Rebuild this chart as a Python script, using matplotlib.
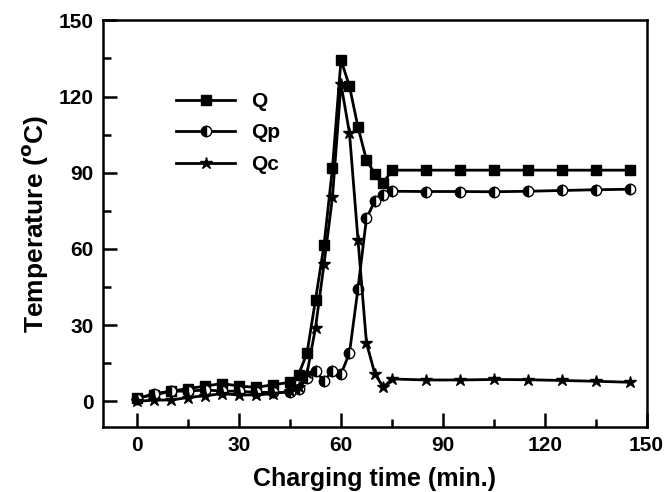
import numpy as np
import matplotlib.pyplot as plt
from matplotlib.ticker import MultipleLocator

plt.rcParams['font.family'] = ['Liberation Sans', 'DejaVu Sans']
plt.rcParams['font.weight'] = 'bold'

# charging time (min.)
t = [0, 5, 10, 15, 20, 25, 30, 35, 40, 45, 47.5, 50, 52.5, 55, 57.5, 60,
     62.5, 65, 67.5, 70, 72.5, 75, 85, 95, 105, 115, 125, 135, 145]

# temperatures
Q = [1.5, 2.5, 4, 5, 6, 7, 6, 5.5, 6.5, 7.5, 10.5, 19, 40, 61.5, 92, 134.5,
     124, 108, 95, 89.5, 86, 91, 91, 91, 91, 91, 91, 91, 91]
Qp = [1, 3, 4, 4, 4.5, 4, 4, 3.5, 3.5, 3.5, 5, 9, 11.8, 8, 12, 10.7,
      19, 44.4, 72, 79, 81.4, 82.7, 82.6, 82.6, 82.5, 82.7, 83, 83.3, 83.5]
Qc = [0, 0.5, 0.5, 1.5, 2.2, 3, 2.5, 2.5, 3, 4, 5.5, 11, 29, 54, 80.5, 125,
      105.6, 63.7, 23, 10.7, 5.5, 8.8, 8.4, 8.4, 8.6, 8.5, 8.2, 7.9, 7.5]

fig = plt.figure(figsize=(6.68, 4.92), dpi=100)
ax = fig.add_axes([0.1546, 0.1327, 0.8134, 0.826])

ax.plot(t, Q, color='black', lw=2, marker='s', ms=7, label='Q')
ax.plot(t, Qp, color='black', lw=2, marker='o', ms=7.5, fillstyle='left',
        markerfacecolor='black', markerfacecoloralt='white', mew=1,
        label='Qp')
ax.plot(t, Qc, color='black', lw=2, marker='*', ms=9, label='Qc')

ax.set_xlim(-10, 150)
ax.set_ylim(-10, 150)
ax.xaxis.set_major_locator(MultipleLocator(30))
ax.xaxis.set_minor_locator(MultipleLocator(15))
ax.yaxis.set_major_locator(MultipleLocator(30))
ax.yaxis.set_minor_locator(MultipleLocator(15))
ax.tick_params(which='both', direction='in', width=1.8, labelsize=15)
ax.tick_params(which='major', length=10, pad=7)
ax.tick_params(which='minor', length=5.5)
for s in ax.spines.values():
    s.set_linewidth(1.8)

ax.set_xlabel('Charging time (min.)', fontsize=18, fontweight='bold',
              labelpad=8)
ax.set_ylabel('Temperature ($\\mathbf{^{o}}$C)', fontsize=19,
              fontweight='bold', labelpad=6)

leg = ax.legend(loc='upper left', bbox_to_anchor=(0.1, 0.87), frameon=False,
                fontsize=15, handlelength=2.8, labelspacing=0.6)

fig.savefig('out.png', dpi=100)
